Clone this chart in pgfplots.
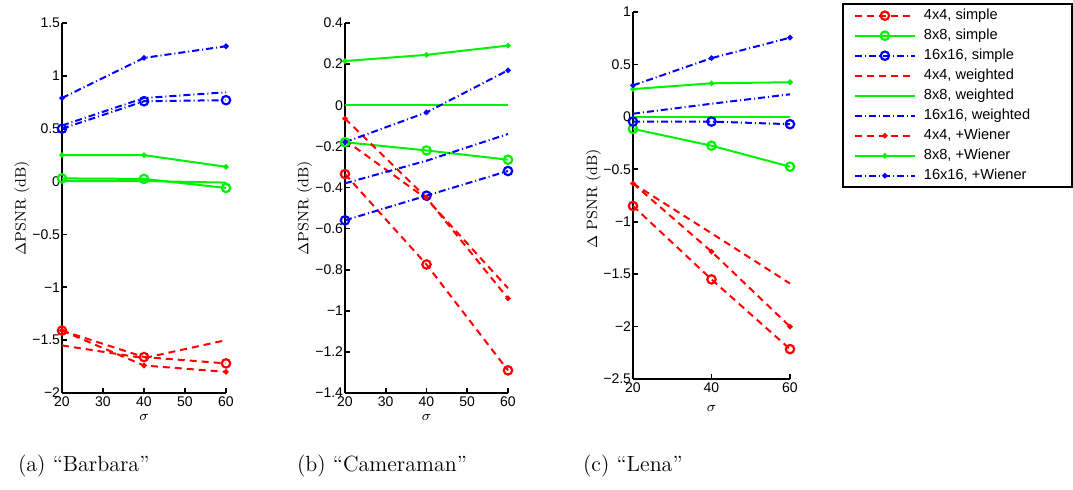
\documentclass[border=0pt]{standalone}
\usepackage{fontspec}
\usepackage{pgfplots}
\pgfplotsset{compat=1.18}
\newfontfamily\helv{Liberation Sans}
\definecolor{mred}{rgb}{1,0,0}
\definecolor{mgreen}{rgb}{0,0.95,0}
\definecolor{mblue}{rgb}{0,0,1}
\pgfplotsset{
 base/.style={scale only axis, axis lines=left, axis line style={line width=1.4pt,-},
  tick align=inside, major tick length=2.5pt, tick style={line width=0.9pt,black},
  xmin=20, xmax=60, clip=false,
  tick label style={font=\helv\fontsize{7}{8}\selectfont},
  yticklabel style={inner xsep=0.8pt}, xticklabel style={inner ysep=1.5pt},
  label style={font=\fontsize{7.5}{9}\selectfont},
  ylabel={$\Delta$PSNR (dB)}, xlabel={$\sigma$},
  every axis plot/.append style={line width=1pt},
  legend image code/.code={\draw[mark repeat=2,mark phase=2,##1] plot coordinates {(0pt,0pt)(15pt,0pt)(30pt,0pt)};}},
 dsh/.style={dash pattern=on 3.5pt off 2.5pt},
 dd/.style={dash pattern=on 3.5pt off 1.5pt on 0.5pt off 1.5pt},
 s4/.style={mred,dsh,mark=o,mark size=2.1pt,mark options={solid,line width=1.1pt}},
 s8/.style={mgreen,solid,mark=o,mark size=2.1pt,mark options={solid,line width=1.1pt}},
 s16/.style={mblue,dd,mark=o,mark size=2.1pt,mark options={solid,line width=1.1pt}},
 w4/.style={mred,dsh,no markers},
 w8/.style={mgreen,solid,no markers},
 w16/.style={mblue,dd,no markers},
 n4/.style={mred,dsh,mark=*,mark size=0.8pt,mark options={solid}},
 n8/.style={mgreen,solid,mark=*,mark size=0.8pt,mark options={solid}},
 n16/.style={mblue,dd,mark=*,mark size=0.8pt,mark options={solid}},
}
\newcommand{\legtxt}[1]{\makebox[68.5pt][l]{#1}}
\begin{document}
\begin{tikzpicture}
\useasboundingbox (0,0) rectangle (536.5pt,-245pt);
% (a) Barbara
\begin{axis}[base, at={(31pt,-196.5pt)}, anchor=south west, width=82pt, height=185pt,
  ymin=-2, ymax=1.5, xtick={20,30,40,50,60}, xticklabels={20,30,40,50,60},
  ytick={-2,-1.5,-1,-0.5,0,0.5,1,1.5}, yticklabels={−2,−1.5,−1,−0.5,0,0.5,1,1.5},
  ylabel style={at={(axis description cs:-0.245,0.5)}, anchor=center},
  xlabel style={at={(axis description cs:0.5,0)}, anchor=center, yshift=-12pt}]
\addplot[s4] coordinates {(20,-1.41) (40,-1.66) (60,-1.72)};
\addplot[s8] coordinates {(20,0.03) (40,0.025) (60,-0.06)};
\addplot[s16] coordinates {(20,0.50) (40,0.76) (60,0.77)};
\addplot[w4] coordinates {(20,-1.55) (40,-1.67) (60,-1.50)};
\addplot[w8] coordinates {(20,0.005) (40,0.005) (60,-0.01)};
\addplot[w16] coordinates {(20,0.53) (40,0.79) (60,0.845)};
\addplot[n4] coordinates {(20,-1.41) (40,-1.74) (60,-1.80)};
\addplot[n8] coordinates {(20,0.25) (40,0.25) (60,0.14)};
\addplot[n16] coordinates {(20,0.79) (40,1.17) (60,1.28)};
\end{axis}
% (b) Cameraman
\begin{axis}[base, at={(172.5pt,-196.5pt)}, anchor=south west, width=81.5pt, height=185pt,
  ymin=-1.4, ymax=0.4, xtick={20,30,40,50,60}, xticklabels={20,30,40,50,60},
  ytick={-1.4,-1.2,-1,-0.8,-0.6,-0.4,-0.2,0,0.2,0.4},
  yticklabels={−1.4,−1.2,−1,−0.8,−0.6,−0.4,−0.2,0,0.2,0.4},
  ylabel style={at={(axis description cs:-0.248,0.5)}, anchor=center},
  xlabel style={at={(axis description cs:0.5,0)}, anchor=center, yshift=-12pt}]
\addplot[s4] coordinates {(20,-0.335) (40,-0.775) (60,-1.29)};
\addplot[s8] coordinates {(20,-0.18) (40,-0.22) (60,-0.265)};
\addplot[s16] coordinates {(20,-0.56) (40,-0.44) (60,-0.32)};
\addplot[w4] coordinates {(20,-0.17) (40,-0.455) (60,-0.89)};
\addplot[w8] coordinates {(20,0) (40,0) (60,0)};
\addplot[w16] coordinates {(20,-0.38) (40,-0.27) (60,-0.14)};
\addplot[n4] coordinates {(20,-0.065) (40,-0.45) (60,-0.94)};
\addplot[n8] coordinates {(20,0.215) (40,0.245) (60,0.29)};
\addplot[n16] coordinates {(20,-0.18) (40,-0.035) (60,0.17)};
\end{axis}
% (c) Lena
\begin{axis}[base, at={(316.5pt,-189.5pt)}, anchor=south west, width=78.5pt, height=183.5pt,
  ymin=-2.5, ymax=1, xtick={20,40,60}, xticklabels={20,40,60},
  ytick={-2.5,-2,-1.5,-1,-0.5,0,0.5,1}, yticklabels={−2.5,−2,−1.5,−1,−0.5,0,0.5,1},
  ylabel={$\Delta$ PSNR (dB)},
  ylabel style={at={(axis description cs:-0.252,0.49)}, anchor=center},
  xlabel style={at={(axis description cs:0.5,0)}, anchor=center, yshift=-14.5pt},
  legend style={at={(axis description cs:1.3312,1.0237)}, anchor=north west, draw=black, line width=0.9pt,
   font=\helv\fontsize{7.3}{8}\selectfont, inner xsep=5.5pt, inner ysep=2pt, row sep=2.5pt,
   nodes={inner sep=0pt, text height=5.5pt, text depth=2pt}, cells={anchor=west},
   /tikz/every odd column/.append style={column sep=4pt}}]
\addplot[s4] coordinates {(20,-0.85) (40,-1.55) (60,-2.215)};
\addlegendentry{\legtxt{4x4, simple}}
\addplot[s8] coordinates {(20,-0.115) (40,-0.275) (60,-0.475)};
\addlegendentry{\legtxt{8x8, simple}}
\addplot[s16] coordinates {(20,-0.045) (40,-0.045) (60,-0.07)};
\addlegendentry{\legtxt{16x16, simple}}
\addplot[w4] coordinates {(20,-0.635) (40,-1.11) (60,-1.59)};
\addlegendentry{\legtxt{4x4, weighted}}
\addplot[w8] coordinates {(20,0) (40,0) (60,0)};
\addlegendentry{\legtxt{8x8, weighted}}
\addplot[w16] coordinates {(20,0.03) (40,0.125) (60,0.215)};
\addlegendentry{\legtxt{16x16, weighted}}
\addplot[n4] coordinates {(20,-0.635) (40,-1.285) (60,-2.0)};
\addlegendentry{\legtxt{4x4, +Wiener}}
\addplot[n8] coordinates {(20,0.265) (40,0.32) (60,0.33)};
\addlegendentry{\legtxt{8x8, +Wiener}}
\addplot[n16] coordinates {(20,0.30) (40,0.56) (60,0.755)};
\addlegendentry{\legtxt{16x16, +Wiener}}
\end{axis}
\node[anchor=base west, font=\fontsize{11}{13}\selectfont] at (5.5pt,-236pt) {(a) ``Barbara''};
\node[anchor=base west, font=\fontsize{11}{13}\selectfont] at (145pt,-236pt) {(b) ``Cameraman''};
\node[anchor=base west, font=\fontsize{11}{13}\selectfont] at (288pt,-236pt) {(c) ``Lena''};
\end{tikzpicture}
\end{document}
